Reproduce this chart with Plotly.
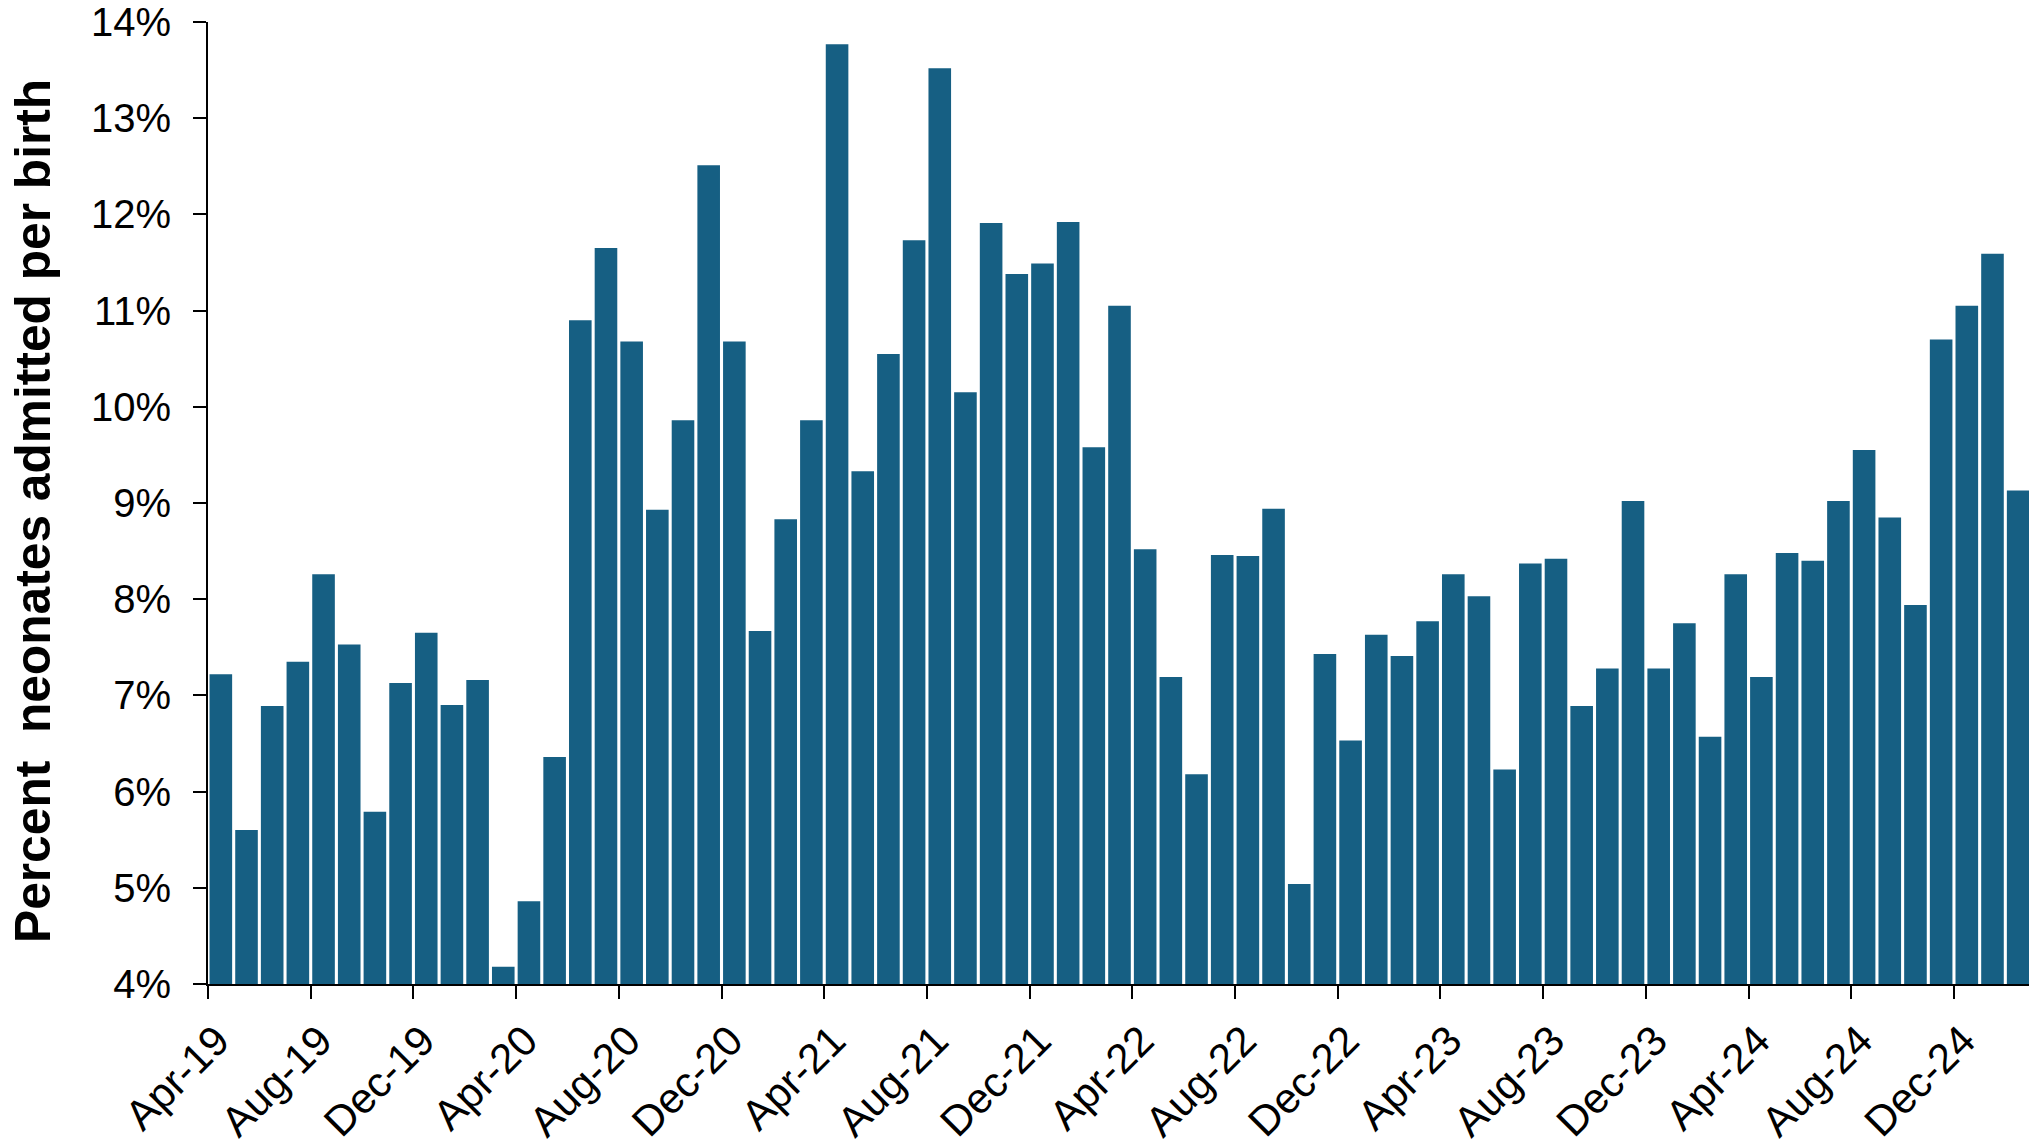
import numpy as np
import plotly.graph_objects as go

# monthly share of neonates admitted per birth, Apr-19 .. Feb-25 (percent)
admit_pct = [
    7.22, 5.60, 6.89, 7.35, 8.26, 7.53, 5.79, 7.13, 7.65, 6.90, 7.16, 4.18,
    4.86, 6.36, 10.90, 11.65, 10.68, 8.93, 9.86, 12.51, 10.68, 7.67, 8.83, 9.86,
    13.77, 9.33, 10.55, 11.73, 13.52, 10.15, 11.91, 11.38, 11.49, 11.92, 9.58, 11.05,
    8.52, 7.19, 6.18, 8.46, 8.45, 8.94, 5.04, 7.43, 6.53, 7.63, 7.41, 7.77,
    8.26, 8.03, 6.23, 8.37, 8.42, 6.89, 7.28, 9.02, 7.28, 7.75, 6.57, 8.26,
    7.19, 8.48, 8.40, 9.02, 9.55, 8.85, 7.94, 10.70, 11.05, 11.59, 9.13,
]

tick_labels = [
    "Apr-19", "Aug-19", "Dec-19", "Apr-20", "Aug-20", "Dec-20",
    "Apr-21", "Aug-21", "Dec-21", "Apr-22", "Aug-22", "Dec-22",
    "Apr-23", "Aug-23", "Dec-23", "Apr-24", "Aug-24", "Dec-24",
]

month_idx = np.arange(len(admit_pct))
# ticks sit on the left boundary of every 4th month
tick_pos = month_idx[::4] - 0.5

FONT = "Liberation Sans, Arial, sans-serif"

fig = go.Figure()

fig.add_trace(
    go.Bar(
        x=month_idx,
        y=admit_pct,
        marker=dict(color="#165F83", line=dict(width=0)),
    ))

# page body adds an 8px offset, margins are set with that in mind
fig.update_layout(
    width=2037,
    height=1141,
    plot_bgcolor="white",
    paper_bgcolor="white",
    showlegend=False,
    bargap=0.12,
    margin=dict(l=200, r=14, t=14, b=165, autoexpand=False),
    font=dict(family=FONT, size=40, color="black"),
    xaxis=dict(
        range=[-0.5, len(admit_pct) - 0.5],
        tickmode="array",
        tickvals=tick_pos,
        ticktext=tick_labels,
        tickangle=-45,
        ticks="outside",
        ticklen=13,
        tickwidth=2,
        tickcolor="black",
        ticklabelshift=9,
        showline=True,
        linecolor="black",
        linewidth=2,
        showgrid=False,
        zeroline=False,
        automargin=False,
        tickfont=dict(size=42),
    ),
    yaxis=dict(
        range=[4, 14],
        dtick=1,
        ticksuffix="%",
        ticks="outside",
        ticklen=13,
        tickwidth=2,
        tickcolor="black",
        ticklabelstandoff=14,
        ticklabeloverflow="allow",
        showline=True,
        linecolor="black",
        linewidth=2,
        showgrid=False,
        zeroline=False,
        automargin=False,
    ),
)

# y axis title as a rotated annotation so it can sit where the original does
fig.add_annotation(
    text="<b>Percent  neonates admitted per birth</b>",
    xref="paper",
    yref="paper",
    x=0,
    y=0.5,
    xanchor="center",
    yanchor="middle",
    xshift=-175,
    yshift=-8,
    textangle=-90,
    showarrow=False,
    font=dict(size=49.7),
)

fig.write_html("out.html")
